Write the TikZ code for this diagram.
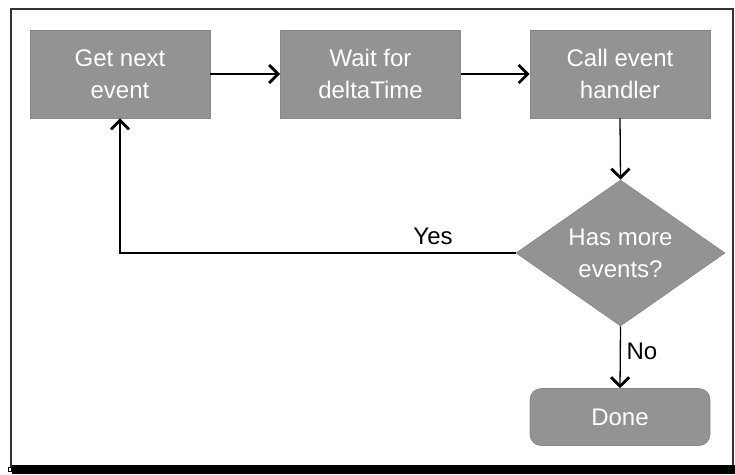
\documentclass[tikz,border=0pt]{standalone}
\usepackage{fontspec}
\setmainfont{Liberation Sans}
\usetikzlibrary{shapes.geometric,arrows.meta}
\definecolor{boxgray}{RGB}{147,147,147}
\definecolor{boxedge}{RGB}{135,135,135}
\begin{document}
\begin{tikzpicture}[x=1pt,y=1pt,
  every node/.style={font=\fontsize{24}{32}\selectfont},
  procbox/.style={rectangle, fill=boxgray, draw=boxedge, line width=0.6pt,
    minimum width=180pt, minimum height=88pt, text=white, align=center, inner sep=0pt},
  decbox/.style={diamond, fill=boxgray, draw=boxedge, line width=0.6pt,
    minimum width=209pt, minimum height=146pt, aspect=1.43, text=white, align=center, inner sep=0pt},
  endbox/.style={rectangle, rounded corners=11pt, fill=boxgray, draw=boxedge, line width=0.6pt,
    minimum width=180pt, minimum height=57pt, text=white, align=center, inner sep=0pt},
  conn/.style={line width=1.3pt, -{Straight Barb[length=9pt,width=18pt,line width=2.8pt]}},
  lbl/.style={text=black, inner sep=0pt}
]
\useasboundingbox (0,0) rectangle (735,-474);
% frame
\draw[line width=1.8pt, draw={rgb,255:red,50;green,50;blue,50}] (11,-467) -- (11,-9) -- (733,-9) -- (733,-467);
\fill[black] (12,-465) rectangle (735,-474);
\draw[line width=0.8pt] (8.5,-467) rectangle (11.5,-471);
% nodes
\node[procbox] (get) at (120,-74) {Get next\\event};
\node[procbox] (wait) at (370.5,-74) {Wait for\\deltaTime};
\node[procbox] (call) at (620,-74) {Call event\\handler};
\node[decbox] (more) at (620.5,-253) {Has more\\events?};
\node[endbox] (done) at (620,-417) {Done};
% connectors
\draw[conn] (get.east) -- (wait.west);
\draw[conn] (wait.east) -- (call.west);
\draw[conn] (call.south) -- (more.north);
\draw[conn] (more.west) -| (get.south);
\draw[conn] (more.south) -- (done.north);
% labels
\node[lbl] (yes) at (433,-236) {Yes};
\node[lbl] (no) at (642,-351) {No};
\end{tikzpicture}
\end{document}
